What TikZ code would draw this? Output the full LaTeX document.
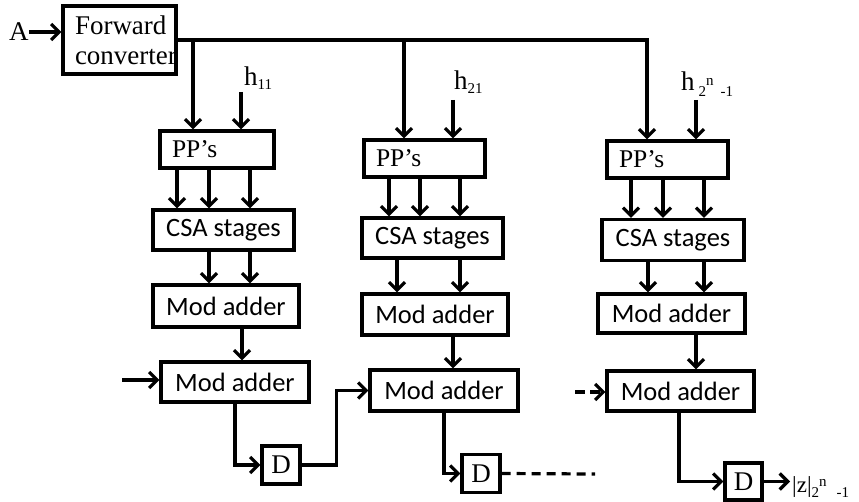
\documentclass[tikz,border=0pt]{standalone}
\usepackage{fontspec}
\setmainfont{Liberation Serif}
\newfontfamily\sansblk{Carlito}
\usetikzlibrary{arrows.meta}
\tikzset{
	blk/.style={draw, line width=3.2pt, inner sep=0pt, font=\sansblk\fontsize{26.5}{28}\selectfont},
	ppblk/.style={draw, line width=3.2pt, inner xsep=12pt, inner ysep=0pt, align=left, font=\fontsize{25.5}{29}\selectfont},
	dblk/.style={draw, line width=3.2pt, minimum size=38pt, inner sep=0pt, font=\fontsize{27}{28}\selectfont},
	lbl/.style={inner sep=0pt, anchor=base west, font=\fontsize{27}{28}\selectfont},
	wire/.style={line width=3.2pt},
	arr/.style={line width=3.2pt, -{Straight Barb[length=8pt,width=16pt]}},
}
\newcommand{\subsz}{\fontsize{15}{15}\selectfont}

\begin{document}
\begin{tikzpicture}[x=1pt,y=-1pt]
				\useasboundingbox (0,0) rectangle (859,502);

				%Nodes
				\node[lbl]                                            (a)    at (9,41)      {A};
				\node[ppblk, text width=89pt, minimum height=68pt, font=\fontsize{27}{30}\selectfont] (fc) at (119.5,40) {Forward\\converter};

				\node[ppblk, text width=90pt, minimum height=37pt]     (pp1)  at (217,149.5)  {PP’s};
				\node[blk, minimum width=141pt, minimum height=40pt]  (csa1) at (223.5,230)  {CSA stages};
				\node[blk, minimum width=146pt, minimum height=42pt]  (ma1)  at (226,306)    {Mod adder};
				\node[blk, minimum width=148pt, minimum height=40pt]  (mb1)  at (235,382)    {Mod adder};
				\node[dblk]                                           (d1)   at (281,465)    {D};

				\node[ppblk, text width=97pt, minimum height=37pt]     (pp2)  at (424.5,158.5) {PP’s};
				\node[blk, minimum width=141pt, minimum height=40pt]  (csa2) at (432.5,238)  {CSA stages};
				\node[blk, minimum width=146pt, minimum height=41pt]  (ma2)  at (435,314.5)  {Mod adder};
				\node[blk, minimum width=148pt, minimum height=41pt]  (mb2)  at (444,390.5)  {Mod adder};
				\node[dblk]                                           (d2)   at (481,473.5)  {D};

				\node[ppblk, text width=97pt, minimum height=37pt]     (pp3)  at (667.5,159.5) {PP’s};
				\node[blk, minimum width=142pt, minimum height=41pt]  (csa3) at (673,240)    {CSA stages};
				\node[blk, minimum width=147pt, minimum height=39pt]  (ma3)  at (671.5,313.5) {Mod adder};
				\node[blk, minimum width=147pt, minimum height=40pt]  (mb3)  at (680.5,391)  {Mod adder};
				\node[dblk, minimum size=37pt]                        (d3)   at (743.5,481.5) {D};

				\node[lbl] (h1) at (244,86) {h\raisebox{-4pt}{\subsz 11}};
				\node[lbl] (h2) at (454,90) {h\raisebox{-4pt}{\subsz 21}};
				\node[lbl] (h3) at (681,91) {h\hspace{4pt}\raisebox{-6pt}{\subsz 2\raisebox{11pt}{n}\hspace{7pt}-1}};
				\node[lbl, inner xsep=2pt, font=\fontsize{23}{24}\selectfont] (zout) at (790,492) {|z|\raisebox{-5pt}{\subsz 2\raisebox{11pt}{n}\hspace{10pt}-1}};

				\coordinate (tap1) at (193,40);
				\coordinate (tap2) at (404,40);
				\coordinate (tap3) at (647,40);
				\coordinate (h1in) at (241,92);
				\coordinate (h2in) at (453,100);
				\coordinate (h3in) at (696,100);
				\coordinate (in1)  at (122,380);
				\coordinate (in3)  at (575,392);
				\coordinate (dend) at (595,474);

				%Lines
				\draw[arr] (a.east) -- (a.east -| fc.west);
				\draw[arr] (fc.east) -- (tap3) -- (tap3 |- pp3.north);
				\draw[arr] (tap1) -- (tap1 |- pp1.north);
				\draw[arr] (tap2) -- (tap2 |- pp2.north);
				\draw[arr] (h1in) -- (h1in |- pp1.north);
				\draw[arr] (h2in) -- (h2in |- pp2.north);
				\draw[arr] (h3in) -- (h3in |- pp3.north);

				\foreach \x in {177,209,250} \draw[arr] (\x,0 |- pp1.south) -- (\x,0 |- csa1.north);
				\foreach \x in {209,250} \draw[arr] (\x,0 |- csa1.south) -- (\x,0 |- ma1.north);
				\draw[arr] (242,0 |- ma1.south) -- (242,0 |- mb1.north);

				\foreach \x in {389,420,460} \draw[arr] (\x,0 |- pp2.south) -- (\x,0 |- csa2.north);
				\foreach \x in {397,460} \draw[arr] (\x,0 |- csa2.south) -- (\x,0 |- ma2.north);
				\draw[arr] (453,0 |- ma2.south) -- (453,0 |- mb2.north);

				\foreach \x in {631,663,704} \draw[arr] (\x,0 |- pp3.south) -- (\x,0 |- csa3.north);
				\foreach \x in {648,704} \draw[arr] (\x,0 |- csa3.south) -- (\x,0 |- ma3.north);
				\draw[arr] (696,0 |- ma3.south) -- (696,0 |- mb3.north);

				\draw[arr] (in1) -- (in1 -| mb1.west);
				\draw[arr] (mb1.south) |- (d1.west);
				\draw[arr] (d1.east) -- ++(35,0) |- (mb2.west);
				\draw[arr] (mb2.south) |- (d2.west);
				\draw[wire, dash pattern=on 9pt off 6pt] (d2.east) -- (dend);
				\draw[arr, dash pattern=on 10pt off 5pt] (in3) -- (in3 -| mb3.west);
				\draw[arr] (679,0 |- mb3.south) |- (d3.west);
				\draw[arr] (d3.east) -- (d3.east -| zout.west);

			\end{tikzpicture}
\end{document}
